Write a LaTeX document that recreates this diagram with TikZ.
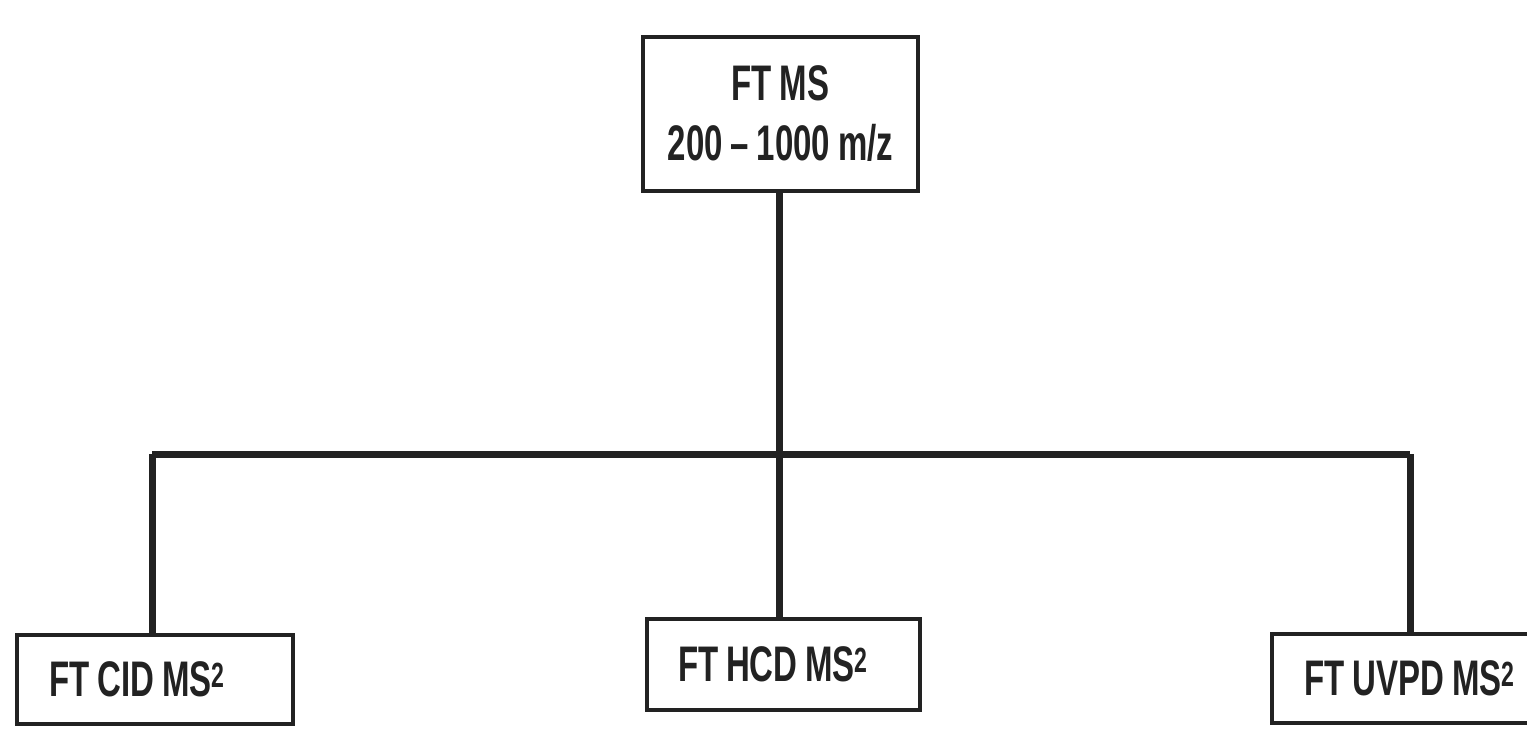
\documentclass[tikz,border=0pt]{standalone}
\usepackage{fontspec}
\newfontfamily\narfont{Liberation Sans}[FakeStretch=0.66,WordSpace=0.85]
\definecolor{ink}{RGB}{34,34,34}
\newcommand{\leaftext}[1]{\makebox[211pt][l]{#1}}
\begin{document}
\begin{tikzpicture}[x=1pt,y=-1pt,
  box/.style={draw=ink,line width=4pt,rectangle,fill=white,
    font=\narfont\bfseries\fontsize{50}{60}\selectfont,text=ink},
  leafbox/.style={box,minimum height=89pt,inner ysep=0pt,inner xsep=32pt},
  link/.style={draw=ink,line width=7pt}]
\useasboundingbox (0,0) rectangle (1527,746);
\node[box,minimum width=275pt,minimum height=154pt,align=center,inner sep=0pt] (top) at (780.5,114) {FT MS\\200 – 1000 m/z};
\node[leafbox] (cid) at (154.5,679.5) {\hspace{1pt}\leaftext{FT CID MS\textsuperscript{2}}};
\node[leafbox,minimum height=91pt,inner xsep=31pt] (hcd) at (783.5,664.5) {\leaftext{FT HCD MS\textsuperscript{2}}};
\node[leafbox] (uvpd) at (1409.5,678) {\hspace{1pt}\leaftext{FT UVPD MS\textsuperscript{2}}};
\coordinate (mid) at (779,454);
\coordinate (hl) at (152,454);
\coordinate (hr) at (1410,454);
\draw[link] (mid |- top.south) -- (mid |- hcd.north);
\draw[link] (hl) -- (hr);
\draw[link] (hl) -- (hl |- cid.north);
\draw[link] (hr) -- (hr |- uvpd.north);
\end{tikzpicture}
\end{document}
